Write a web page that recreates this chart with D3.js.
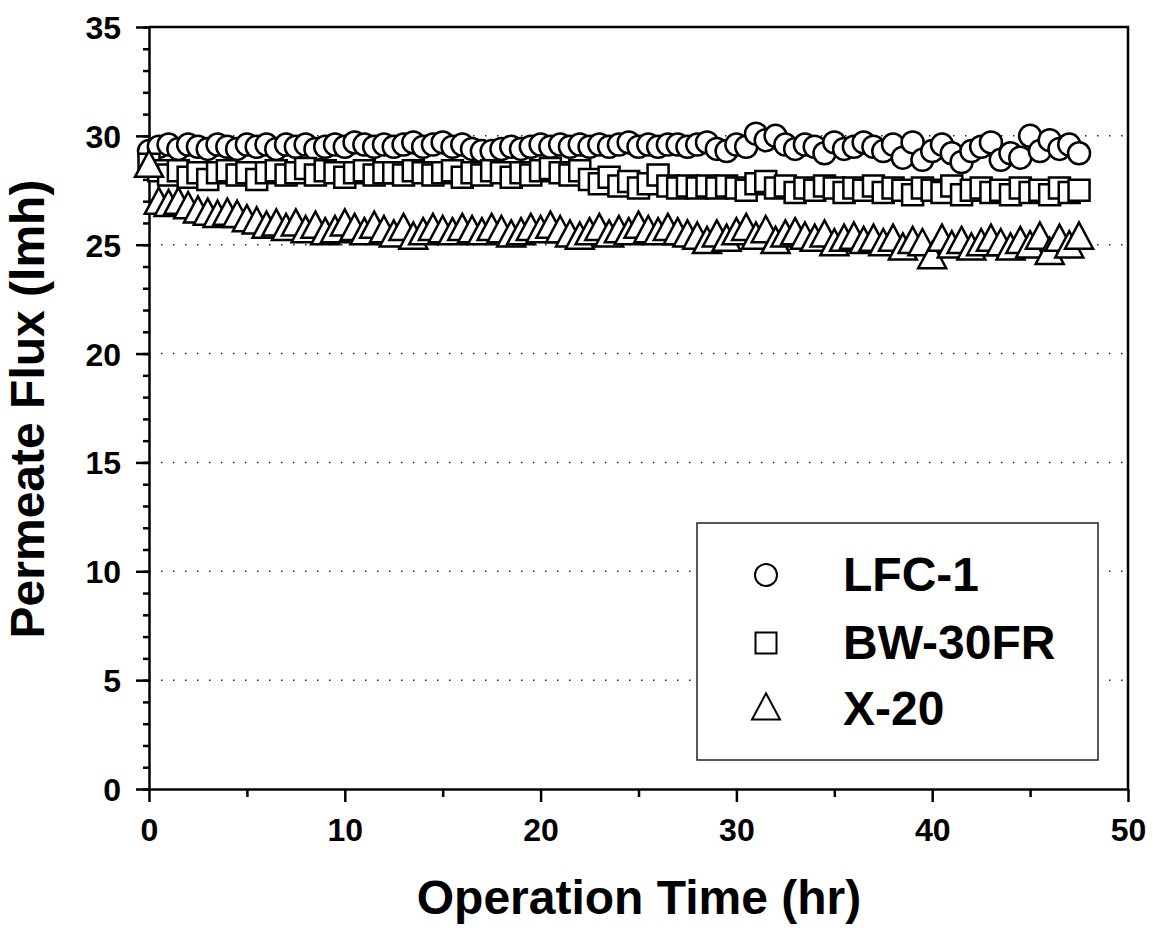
<!DOCTYPE html>
<html lang="en">
<head>
    <meta charset="UTF-8">
    <title>Permeate Flux</title>
    <script src="https://d3js.org/d3.v7.min.js"></script>
</head>
<body>
<style>
    body{
        margin: 0;
        background: #fff;
    }
    text{
        font-family: "Liberation Sans", Arial, sans-serif;
        font-weight: bold;
    }
    .axis path, .axis line{
        stroke: #000;
        stroke-width: 2.5;
    }
    .grid{
        stroke: #222;
        stroke-width: 1.5;
        stroke-dasharray: 1.5,10.5;
    }
</style>

<script>
    // operation time, one reading every half hour
    const hours = d3.range(96).map(i => i * 0.5);

    const lfc1 = [
        29.3, 29.5, 29.6, 29.4, 29.6, 29.5, 29.4, 29.6, 29.5, 29.4, 29.6,
        29.5, 29.6, 29.4, 29.6, 29.5, 29.6, 29.4, 29.5, 29.6, 29.5, 29.7,
        29.6, 29.5, 29.6, 29.5, 29.6, 29.7, 29.5, 29.6, 29.7, 29.5, 29.6,
        29.4, 29.3, 29.3, 29.4, 29.5, 29.4, 29.5, 29.6, 29.5, 29.6, 29.5,
        29.6, 29.5, 29.6, 29.5, 29.6, 29.7, 29.5, 29.6, 29.5, 29.6, 29.6,
        29.5, 29.6, 29.7, 29.4, 29.3, 29.6, 29.5, 30.1, 29.8, 30.0, 29.6,
        29.4, 29.6, 29.5, 29.2, 29.7, 29.4, 29.5, 29.7, 29.5, 29.3, 29.6,
        29.0, 29.7, 28.9, 29.3, 29.6, 29.2, 28.8, 29.3, 29.5, 29.7, 28.9,
        29.2, 29.0, 30.0, 29.3, 29.8, 29.4, 29.6, 29.2
    ];
    const bw30fr = [
        28.7, 28.4, 28.2, 28.4, 28.1, 28.3, 28.0, 28.3, 28.4, 28.2, 28.3,
        28.0, 28.3, 28.4, 28.2, 28.3, 28.5, 28.2, 28.4, 28.3, 28.1, 28.3,
        28.4, 28.2, 28.3, 28.3, 28.2, 28.4, 28.3, 28.2, 28.3, 28.4, 28.1,
        28.3, 28.2, 28.4, 28.3, 28.1, 28.3, 28.2, 28.4, 28.5, 28.3, 28.2,
        28.4, 28.0, 27.8, 28.1, 27.7, 27.9, 27.6, 27.8, 28.2, 27.7, 27.6,
        27.7, 27.6, 27.7, 27.6, 27.7, 27.6, 27.5, 27.8, 27.9, 27.6, 27.7,
        27.4, 27.6, 27.5, 27.7, 27.6, 27.4, 27.6, 27.5, 27.7, 27.4, 27.6,
        27.5, 27.3, 27.6, 27.5, 27.4, 27.7, 27.3, 27.5, 27.6, 27.4, 27.5,
        27.3, 27.6, 27.4, 27.5, 27.3, 27.6, 27.4, 27.5
    ];
    const x20 = [
        28.6, 26.9, 26.8, 26.9, 26.7, 26.5, 26.4, 26.3, 26.4, 26.3, 26.1,
        26.0, 25.8, 25.9, 25.7, 25.9, 25.6, 25.8, 25.5, 25.6, 25.9, 25.7,
        25.5, 25.8, 25.6, 25.4, 25.7, 25.3, 25.5, 25.7, 25.6, 25.5, 25.7,
        25.6, 25.5, 25.7, 25.6, 25.4, 25.5, 25.7, 25.6, 25.8, 25.6, 25.4,
        25.3, 25.5, 25.7, 25.4, 25.6, 25.5, 25.8, 25.6, 25.5, 25.7, 25.5,
        25.4, 25.3, 25.1, 25.4, 25.2, 25.5, 25.7, 25.3, 25.6, 25.1, 25.4,
        25.5, 25.3, 25.2, 25.4, 25.0, 25.2, 25.3, 25.1, 25.2, 25.0, 25.2,
        24.8, 25.1, 25.0, 24.4, 25.2, 24.9, 25.1, 24.8, 25.0, 25.2, 25.0,
        24.8, 25.1, 24.9, 25.3, 24.6, 25.2, 24.9, 25.3
    ];

    const seriesNames = ["LFC-1", "BW-30FR", "X-20"];
    const xTicks = [0, 10, 20, 30, 40, 50];
    const yTicks = [0, 5, 10, 15, 20, 25, 30, 35];
    const gridValues = [5, 10, 15, 20, 25, 30];

    // taller triangle than d3's equilateral one (size = width)
    const tallTriangle = {
        draw: function(context, size){
            const w = size / 2;
            context.moveTo(0, -w * 1.12);
            context.lineTo(w, w * 0.75);
            context.lineTo(-w, w * 0.75);
            context.closePath();
        }
    };

    const series = [
        {name: seriesNames[0], values: lfc1, type: d3.symbolCircle, size: 380},
        {name: seriesNames[1], values: bw30fr, type: d3.symbolSquare, size: 441},
        {name: seriesNames[2], values: x20, type: tallTriangle, size: 28}
    ];

    const plotLeft = 149, plotRight = 1128, plotTop = 27, plotBottom = 789;

    const x = d3.scaleLinear().domain([0, 50]).range([plotLeft, plotRight]);
    const y = d3.scaleLinear().domain([0, 35]).range([plotBottom, plotTop]);

    let svg = d3.select("body")
        .append("svg")
        .attr("width", 1156)
        .attr("height", 928);

    // dotted gridlines
    svg.selectAll(".grid")
        .data(gridValues)
        .enter()
        .append("line")
        .attr("class", "grid")
        .attr("x1", plotLeft)
        .attr("x2", plotRight)
        .attr("y1", d => y(d))
        .attr("y2", d => y(d));

    // minor ticks first, then the major ones over them
    svg.append("g")
        .attr("class", "axis")
        .attr("transform", "translate(" + plotLeft + ",0)")
        .call(d3.axisLeft(y).tickValues(d3.range(0, 36, 1)).tickSize(6).tickFormat(""))
        .select(".domain").remove();

    svg.append("g")
        .attr("class", "axis")
        .attr("transform", "translate(0," + plotBottom + ")")
        .call(d3.axisBottom(x).tickValues(d3.range(5, 50, 10)).tickSize(8).tickFormat(""))
        .select(".domain").remove();

    let yAxis = svg.append("g")
        .attr("class", "axis")
        .attr("transform", "translate(" + plotLeft + ",0)")
        .call(d3.axisLeft(y).tickValues(yTicks).tickSize(13).tickSizeOuter(0).tickPadding(15));
    yAxis.selectAll("text")
        .attr("font-size", 32)
        .attr("fill", "#000")
        .attr("dy", "0.36em");

    let xAxis = svg.append("g")
        .attr("class", "axis")
        .attr("transform", "translate(0," + plotBottom + ")")
        .call(d3.axisBottom(x).tickValues(xTicks).tickSize(13).tickSizeOuter(0).tickPadding(16));
    xAxis.selectAll("text")
        .attr("font-size", 32)
        .attr("fill", "#000")
        .attr("dy", "0.71em");

    // frame top and right
    svg.append("path")
        .attr("d", "M" + plotLeft + "," + plotTop + "H" + plotRight + "V" + plotBottom)
        .attr("fill", "none")
        .attr("stroke", "#000")
        .attr("stroke-width", 2.5);

    // markers
    series.forEach(function(s){
        svg.append("g")
            .selectAll("path")
            .data(s.values)
            .enter()
            .append("path")
            .attr("d", d3.symbol().type(s.type).size(s.size))
            .attr("transform", (d, i) => "translate(" + x(hours[i]) + "," + y(d) + ")")
            .attr("fill", "#fff")
            .attr("stroke", "#000")
            .attr("stroke-width", 2.5);
    });

    // legend
    let legend = svg.append("g");
    legend.append("rect")
        .attr("x", 697)
        .attr("y", 523)
        .attr("width", 401)
        .attr("height", 237)
        .attr("fill", "#fff")
        .attr("stroke", "#222")
        .attr("stroke-width", 1.5);

    const legendRows = [575, 643, 709];
    let rows = legend.selectAll(".row")
        .data(series)
        .enter()
        .append("g")
        .attr("transform", (d, i) => "translate(0," + legendRows[i] + ")");
    rows.append("path")
        .attr("d", d => d3.symbol().type(d.type).size(d.size)())
        .attr("transform", "translate(766,0)")
        .attr("fill", "#fff")
        .attr("stroke", "#000")
        .attr("stroke-width", 2);
    rows.append("text")
        .attr("x", 843)
        .attr("y", 16)
        .attr("font-size", 48)
        .text(d => d.name);

    // axis titles
    svg.append("text")
        .attr("x", 639)
        .attr("y", 914)
        .attr("text-anchor", "middle")
        .attr("font-size", 48)
        .text("Operation Time (hr)");

    svg.append("text")
        .attr("transform", "translate(44,409) rotate(-90)")
        .attr("text-anchor", "middle")
        .attr("font-size", 48)
        .text("Permeate Flux (lmh)");
</script>
</body>
</html>
